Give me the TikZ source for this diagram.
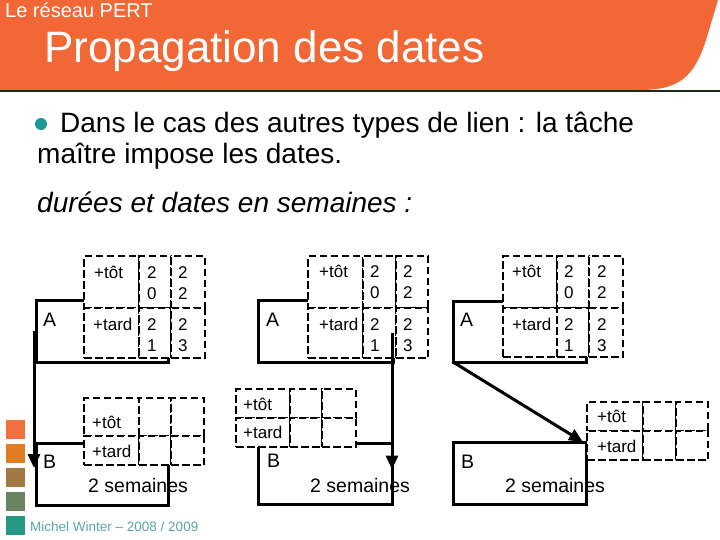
\documentclass[tikz,border=0pt]{standalone}
\usepackage{fontspec}
\setmainfont{Liberation Sans}
\usetikzlibrary{arrows.meta}
\definecolor{hdr}{RGB}{241,104,54}
\definecolor{hline}{RGB}{25,45,25}
\definecolor{bul}{RGB}{30,150,150}
\definecolor{sqa}{RGB}{243,112,64}
\definecolor{sqb}{RGB}{221,126,36}
\definecolor{sqc}{RGB}{160,122,66}
\definecolor{sqd}{RGB}{106,132,96}
\definecolor{sqe}{RGB}{38,152,132}
\definecolor{foot}{RGB}{95,165,165}
\tikzset{
  taskbox/.style={draw, line width=3pt, inner sep=0, outer sep=0, anchor=north west},
  cell/.style={draw, fill=white, line width=1.4pt, dash pattern=on 7.5pt off 3.5pt, inner sep=0, outer sep=0, anchor=north west},
  txt/.style={inner sep=0, anchor=base west, font=\fontsize{17}{20}\selectfont},
  lbl/.style={inner sep=0, anchor=base west, font=\fontsize{19.5}{22}\selectfont},
  arr/.style={line width=3pt, -{Triangle[length=14pt,width=12pt]}},
  sq/.style={fill=#1, draw=none, minimum size=19pt, inner sep=0, anchor=north west}
}
\newcommand\pertable[8]{%
  \node[cell, minimum width=#6, minimum height=#4] (#1-11) at (#2,#3) {};
  \node[cell, minimum width=#7, minimum height=#4] (#1-12) at (#1-11.north east) {};
  \node[cell, minimum width=#8, minimum height=#4] (#1-13) at (#1-12.north east) {};
  \node[cell, minimum width=#6, minimum height=#5] (#1-21) at (#1-11.south west) {};
  \node[cell, minimum width=#7, minimum height=#5] (#1-22) at (#1-21.north east) {};
  \node[cell, minimum width=#8, minimum height=#5] (#1-23) at (#1-22.north east) {};
}
\newcommand\stackdig[5]{% name x ybase top bottom
  \node[txt] (#1a) at (#2,#3) {#4};
  \node[txt] (#1b) at (#2,#3+21.5) {#5};
}
\begin{document}
\begin{tikzpicture}[x=1pt,y=-1pt]
\useasboundingbox[fill=white] (0,0) rectangle (720,540);
% header
\fill[hdr] (0,0) -- (718,0) -- (706,40) .. controls (694,78) and (678,90) .. (640,90) -- (0,90) -- cycle;
\draw[hline, line width=1.2pt] (0,91) -- (720,91);
\node[inner sep=0, anchor=base west, text=white, font=\fontsize{20}{24}\selectfont] (sub) at (5,18) {Le réseau PERT};
\node[inner sep=0, anchor=base west, text=white, font=\fontsize{44}{50}\selectfont] (title) at (44,63) {Propagation des dates};
% body text
\node[circle, fill=bul, minimum size=12pt, inner sep=0] (bullet) at (41,124) {};
\node[inner sep=0, anchor=base west, font=\fontsize{28}{32}\selectfont] (l1) at (60,133) {Dans le cas des autres types de lien : la tâche};
\node[inner sep=0, anchor=base west, font=\fontsize{28}{32}\selectfont] (l2) at (37,164) {maître impose les dates.};
\node[inner sep=0, anchor=base west, font=\fontsize{28}{32}\selectfont\itshape] (l3) at (37,212) {durées et dates en semaines :};
% squares and footer
\node[sq=sqa] (s1) at (6,420) {};
\node[sq=sqb] (s2) at (6,444) {};
\node[sq=sqc] (s3) at (6,468) {};
\node[sq=sqd] (s4) at (6,492) {};
\node[sq=sqe] (s5) at (6,516) {};
\node[inner sep=0, anchor=base west, text=foot, font=\fontsize{13.5}{16}\selectfont] (foot) at (30,531) {Michel Winter -- 2008 / 2009};

% ---------- diagram 1 ----------
\node[taskbox, minimum width=132pt, minimum height=62pt] (A1) at (36,300) {};
\node[taskbox, minimum width=132pt, minimum height=62pt] (B1) at (36,443) {};
\pertable{TA1}{84}{256}{52}{50}{55}{32}{34}
\pertable{TB1}{84}{398}{38}{29}{55}{32}{33}
\node[txt] (TA1t) at (94,278) {+tôt};
\node[txt] (TA1d) at (93,330) {+tard};
\stackdig{TA1x}{147}{278}{2}{0}
\stackdig{TA1y}{178}{278}{2}{2}
\stackdig{TA1z}{147}{330}{2}{1}
\stackdig{TA1w}{178}{330}{2}{3}
\node[txt] (TB1t) at (92,428) {+tôt};
\node[txt] (TB1d) at (92,457) {+tard};
\node[lbl] (A1l) at (43,326) {A};
\node[lbl] (B1l) at (43,468) {B};
\node[lbl] (B1s) at (88,492) {2 semaines};
\draw[arr] ([shift={(-2,0)}]A1.west) -- ([shift={(-2,-6)}]B1.west);

% ---------- diagram 2 ----------
\node[taskbox, minimum width=135pt, minimum height=62pt] (A2) at (258,300) {};
\node[taskbox, minimum width=134pt, minimum height=61pt] (B2) at (258,443) {};
\pertable{TA2}{308}{256}{52}{50}{55}{33}{32}
\pertable{TB2}{236}{389}{29}{29}{54}{32}{34}
\node[txt] (TA2t) at (319,277) {+tôt};
\node[txt] (TA2d) at (319,330) {+tard};
\stackdig{TA2x}{370}{277}{2}{0}
\stackdig{TA2y}{403}{277}{2}{2}
\stackdig{TA2z}{370}{330}{2}{1}
\stackdig{TA2w}{403}{330}{2}{3}
\node[txt] (TB2t) at (243,410) {+tôt};
\node[txt] (TB2d) at (243,438) {+tard};
\node[lbl] (A2l) at (266,326) {A};
\node[lbl] (B2l) at (267,467) {B};
\node[lbl] (B2s) at (310,492) {2 semaines};
\draw[arr] ([shift={(-1,2)}]A2.east) -- ([shift={(0,-4)}]B2.east);

% ---------- diagram 3 ----------
\node[taskbox, minimum width=133pt, minimum height=61pt] (A3) at (453,301) {};
\node[taskbox, minimum width=133pt, minimum height=62pt] (B3) at (453,442) {};
\pertable{TA3}{503}{256}{52}{49}{54}{32}{34}
\pertable{TB3}{587}{402}{29}{29}{56}{33}{32}
\node[txt] (TA3t) at (512,277) {+tôt};
\node[txt] (TA3d) at (512,330) {+tard};
\stackdig{TA3x}{564}{277}{2}{0}
\stackdig{TA3y}{597}{277}{2}{2}
\stackdig{TA3z}{564}{330}{2}{1}
\stackdig{TA3w}{597}{330}{2}{3}
\node[txt] (TB3t) at (597,422) {+tôt};
\node[txt] (TB3d) at (597,452) {+tard};
\node[lbl] (A3l) at (460,326) {A};
\node[lbl] (B3l) at (461,468) {B};
\node[lbl] (B3s) at (505,492) {2 semaines};
\draw[arr] (A3.south west) -- ([shift={(-3,0)}]B3.north east);
\end{tikzpicture}
\end{document}
